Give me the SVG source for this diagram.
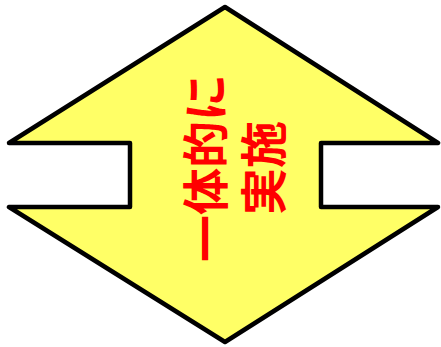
<svg xmlns="http://www.w3.org/2000/svg" width="441" height="347" viewBox="0 0 441 347">
<style>
.shape{fill:#FFFF66;stroke:#000;stroke-width:4.5;stroke-linejoin:round}
.lbl{font-family:"Noto Sans CJK JP","Noto Sans CJK SC",sans-serif;font-size:47px;font-weight:bold;fill:#FF0000;text-anchor:middle;dominant-baseline:central}
</style>
<g id="shape">
<polygon class="shape" points="225,7 438,143 321,143 321,207 438,207 225,342 9,207 130,207 130,143 9,143"/>
</g>
<g id="label">
<text class="lbl" transform="translate(202,168) rotate(-90)">一体的に</text>
<text class="lbl" transform="translate(260,168) rotate(-90)">実施</text>
</g>
</svg>
